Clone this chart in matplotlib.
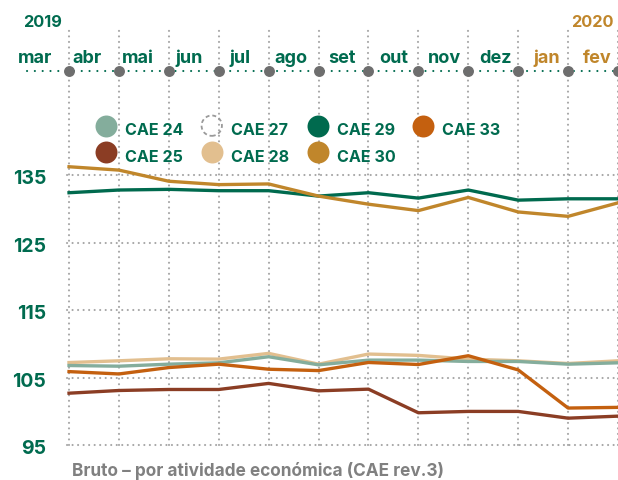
import matplotlib
matplotlib.use("Agg")
import matplotlib.pyplot as plt

plt.rcParams["font.family"] = ["Inter", "DejaVu Sans"]

GREEN = "#006b4f"
GOLD = "#c0862b"
GREY = "#6e6e6e"

months = ["mar", "abr", "mai", "jun", "jul", "ago", "set", "out", "nov", "dez", "jan", "fev"]
month_colors = [GREEN] * 10 + [GOLD] * 2
yticks = [95, 105, 115, 125, 135]

# index values, one per month
cae24 = [106.8, 106.7, 107.0, 107.2, 108.1, 106.9, 107.6, 107.6, 107.4, 107.4, 107.0, 107.2]
cae25 = [102.7, 103.1, 103.25, 103.25, 104.15, 103.05, 103.3, 99.8, 100.0, 100.0, 99.0, 99.3]
cae28 = [107.24, 107.5, 107.8, 107.75, 108.6, 107.0, 108.5, 108.3, 107.75, 107.5, 107.1, 107.5]
cae29 = [132.4, 132.8, 132.9, 132.7, 132.7, 131.9, 132.4, 131.6, 132.8, 131.3, 131.5, 131.5]
cae30 = [136.25, 135.75, 134.1, 133.6, 133.7, 131.9, 130.7, 129.75, 131.7, 129.55, 128.9, 130.9]
cae33 = [105.9, 105.55, 106.5, 107.0, 106.25, 106.05, 107.25, 106.95, 108.25, 106.15, 100.5, 100.6]

# drawing order (bottom to top)
series = [
    ("CAE 28", cae28, "#e2bf8f"),
    ("CAE 24", cae24, "#84ad9c"),
    ("CAE 25", cae25, "#8b3d24"),
    ("CAE 33", cae33, "#c4600f"),
    ("CAE 29", cae29, "#006a4e"),
    ("CAE 30", cae30, "#c0862b"),
]
colors = {name: col for name, _, col in series}
# legend grid: (name, row, col); CAE 27 has no line in this view
legend_items = [("CAE 24", 0, 0), ("CAE 27", 0, 1), ("CAE 29", 0, 2), ("CAE 33", 0, 3),
                ("CAE 25", 1, 0), ("CAE 28", 1, 1), ("CAE 30", 1, 2)]

fig = plt.figure(figsize=(6.18, 4.81), dpi=100)
ax = fig.add_axes([0, 0, 1, 1])
ax.set_xlim(-1.383, 11)
ax.set_ylim(89.84, 161.1)
ax.axis("off")


# helpers to turn pixel positions of the layout into data units
def px(p):
    return (p - 69) / 49.9


def py(p):
    return 115 + (311.2 - p) / 6.75


x = list(range(len(months)))

# grid
for xi in x:
    ax.plot([xi, xi], [py(446.5), py(28)], color="#a5a5a5", lw=1.5,
            linestyle=(0, (0.05, 2.6)), dash_capstyle="round", zorder=1)
for yt in yticks:
    ax.plot([px(67), 11], [yt, yt], color="#a5a5a5", lw=1.5,
            linestyle=(0, (0.05, 2.6)), dash_capstyle="round", zorder=1)
    ax.text(px(46), yt - 8 / 6.75, str(yt), ha="right", va="baseline",
            fontsize=14, fontweight="bold", color=GREEN)

# top month axis
ytop = py(72.3)
ax.plot([px(27), 11], [ytop, ytop], color=GREEN, lw=1.5,
        linestyle=(0, (0.05, 3.7)), dash_capstyle="round", zorder=2)
ax.scatter(x, [ytop] * len(x), s=62, color=GREY, zorder=3, linewidths=0)
for i, (m, c) in enumerate(zip(months, month_colors)):
    ax.text(px(35.5 + 51.1 * i), py(63.5), m, ha="center", va="baseline",
            fontsize=13, fontweight="bold", color=c)
ax.text(px(23), py(26.7), "2019", ha="left", va="baseline", fontsize=11.8,
        fontweight="bold", color=GREEN)
ax.text(px(614), py(26.7), "2020", ha="right", va="baseline", fontsize=11.8,
        fontweight="bold", color=GOLD)

# lines
for name, vals, col in series:
    ax.plot(x, vals, color=col, lw=2.4, solid_joinstyle="round", zorder=4)

# legend
mark_x = [106, 211.7, 317.7, 423]
mark_y = [126.7, 153.3]
for name, r, c in legend_items:
    if name in colors:
        ax.scatter([px(mark_x[c])], [py(mark_y[r])], s=250, color=colors[name],
                   linewidths=0, zorder=5)
    else:
        ax.scatter([px(mark_x[c])], [py(mark_y[r])], s=215, facecolors="none",
                   edgecolors="#9a9a9a", linewidths=1.3, linestyles=(0, (2.2, 1.6)),
                   zorder=5)
    ax.text(px(mark_x[c] + 19), py(mark_y[r] + 8.5), name, ha="left", va="baseline",
            fontsize=11.6, fontweight="bold", color=GREEN, zorder=5)

ax.text(px(72), py(476.5), "Bruto – por atividade económica (CAE rev.3)",
        ha="left", va="baseline", fontsize=12.4, fontweight="bold", color="#808080")

fig.savefig("out.png", dpi=100)
